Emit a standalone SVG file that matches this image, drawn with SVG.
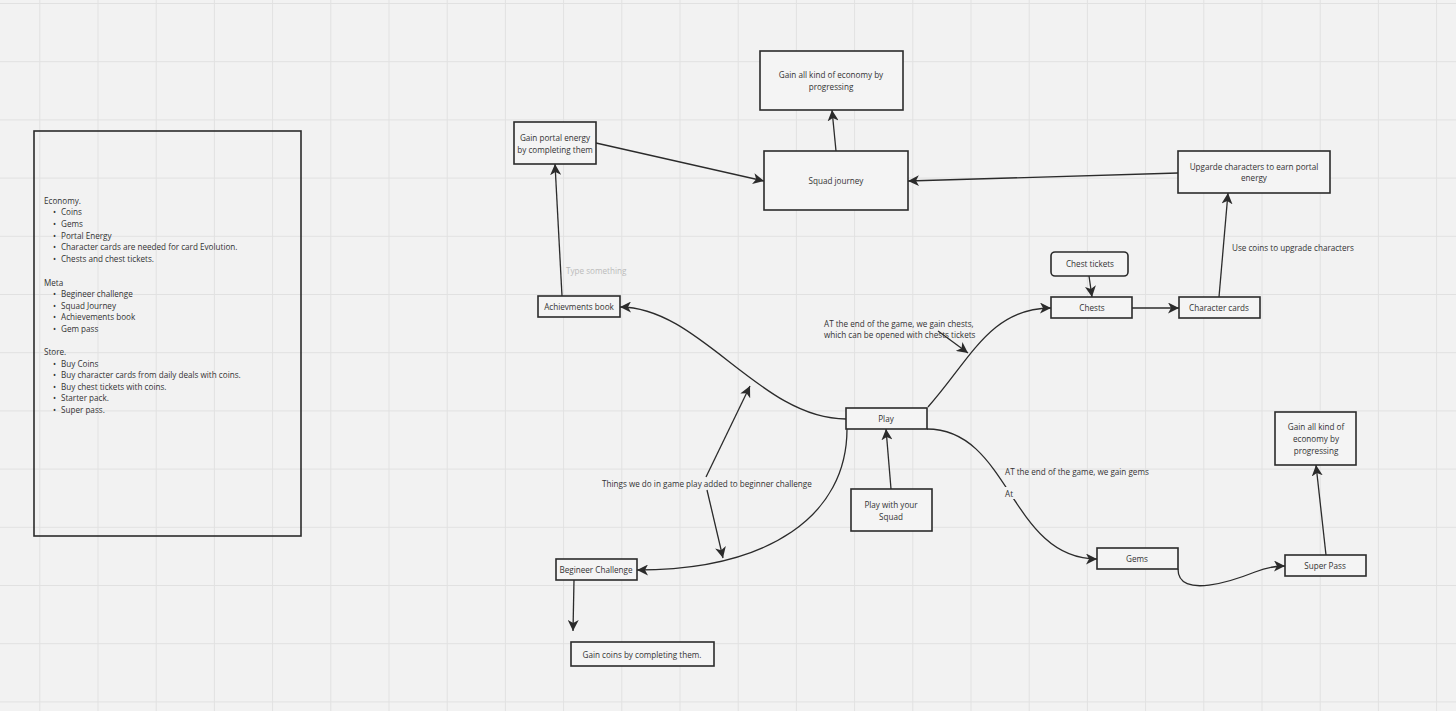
<svg xmlns="http://www.w3.org/2000/svg" width="1456" height="711" viewBox="0 0 1456 711">
<defs>
<pattern id="grid" patternUnits="userSpaceOnUse" x="39.3" y="3" width="58.2" height="58.2">
<path d="M0,0 V58.2 M0,0 H58.2" fill="none" stroke="#e1e1e1" stroke-width="2"/>
</pattern>
<marker id="arr" markerUnits="userSpaceOnUse" markerWidth="12" markerHeight="11" refX="11" refY="5.5" orient="auto" viewBox="0 0 12 11">
<path d="M0,0 L11,5.5 L0,11 L3,5.5 z" fill="#2b2b2b"/>
</marker>
<style>
.bg{fill:#f2f2f2}
.box{fill:#f4f4f4;stroke:#2b2b2b;stroke-width:1.6}
.t{font-family:"Open Sans","DejaVu Sans",sans-serif;font-size:8.15px;fill:#333}
.c{text-anchor:middle}
.ln{fill:none;stroke:#2b2b2b;stroke-width:1.3}
.ae{marker-end:url(#arr)}
</style>
</defs>
<rect class="bg" width="1456" height="711"/>
<rect width="1456" height="711" fill="url(#grid)"/>

<g id="legend">
<rect x="34" y="131" width="267" height="405" fill="none" stroke="#2b2b2b" stroke-width="1.6"/>
<text class="t" x="44" y="204">Economy.</text>
<text class="t" x="53" y="215">•<tspan x="61">Coins</tspan></text>
<text class="t" x="53" y="227">•<tspan x="61">Gems</tspan></text>
<text class="t" x="53" y="239">•<tspan x="61">Portal Energy</tspan></text>
<text class="t" x="53" y="250">•<tspan x="61">Character cards are needed for card Evolution.</tspan></text>
<text class="t" x="53" y="262">•<tspan x="61">Chests and chest tickets.</tspan></text>
<text class="t" x="44" y="286">Meta</text>
<text class="t" x="53" y="297">•<tspan x="61">Begineer challenge</tspan></text>
<text class="t" x="53" y="309">•<tspan x="61">Squad Journey</tspan></text>
<text class="t" x="53" y="320">•<tspan x="61">Achievements book</tspan></text>
<text class="t" x="53" y="332">•<tspan x="61">Gem pass</tspan></text>
<text class="t" x="44" y="355">Store.</text>
<text class="t" x="53" y="367">•<tspan x="61">Buy Coins</tspan></text>
<text class="t" x="53" y="378">•<tspan x="61">Buy character cards from daily deals with coins.</tspan></text>
<text class="t" x="53" y="390">•<tspan x="61">Buy chest tickets with coins.</tspan></text>
<text class="t" x="53" y="401">•<tspan x="61">Starter pack.</tspan></text>
<text class="t" x="53" y="413">•<tspan x="61">Super pass.</tspan></text>
</g>

<g id="connectors">
<path class="ln ae" d="M596,143 L764,181"/>
<path class="ln ae" d="M836,151 L832,110"/>
<path class="ln ae" d="M1178,173 L908,181"/>
<path class="ln ae" d="M562,296 L555,164"/>
<path class="ln ae" d="M846,419 C760,419 700,307 620,307"/>
<path class="ln ae" d="M928,407 C970,360 990,308 1051,308"/>
<path class="ln ae" d="M938,331 L968,353"/>
<path class="ln ae" d="M1089,276 L1092,297"/>
<path class="ln ae" d="M1132,308 L1179,308"/>
<path class="ln ae" d="M1219,297 L1228,193"/>
<path class="ln ae" d="M847,429 C847,515 770,570 637,570"/>
<path class="ln ae" d="M706,477 L750,386"/>
<path class="ln ae" d="M707,490 L723,558"/>
<path class="ln ae" d="M574,580 L573,631"/>
<path class="ln ae" d="M891,489 L886,429"/>
<path class="ln ae" d="M927,429 C1010,429 1010,559 1097,559"/>
<path class="ln ae" d="M1178,569 C1178,600 1235,580 1255,572 C1265,568 1275,566 1285,566"/>
<path class="ln ae" d="M1326,555 L1316,465"/>
<rect x="1003" y="487" width="14" height="12" class="bg"/>
<text class="t" x="824" y="327">AT the end of the game, we gain chests,</text>
<text class="t" x="824" y="338">which can be opened with chests tickets</text>
<text class="t" x="1232" y="251">Use coins to upgrade characters</text>
<text class="t" x="566" y="274" style="fill:#bbb">Type something</text>
<text class="t" x="602" y="487">Things we do in game play added to beginner challenge</text>
<text class="t" x="1005" y="475">AT the end of the game, we gain gems</text>
<text class="t" x="1005" y="497">At</text>
</g>

<g id="n-economy-top">
<rect class="box" x="760" y="51" width="143" height="59"/>
<text class="t c" x="831" y="78">Gain all kind of economy by</text>
<text class="t c" x="831" y="90">progressing</text>
</g>
<g id="n-portal">
<rect class="box" x="514" y="122" width="82" height="42"/>
<text class="t c" x="555" y="141">Gain portal energy</text>
<text class="t c" x="555" y="153">by completing them</text>
</g>
<g id="n-squad">
<rect class="box" x="764" y="151" width="144" height="59"/>
<text class="t c" x="836" y="184">Squad journey</text>
</g>
<g id="n-upgrade">
<rect class="box" x="1178" y="151" width="152" height="42"/>
<text class="t c" x="1254" y="170">Upgarde characters to earn portal</text>
<text class="t c" x="1254" y="181">energy</text>
</g>
<g id="n-tickets">
<rect class="box" x="1051" y="252" width="77" height="24" rx="4"/>
<text class="t c" x="1090" y="267">Chest tickets</text>
</g>
<g id="n-chests">
<rect class="box" x="1051" y="297" width="81" height="21"/>
<text class="t c" x="1092" y="311">Chests</text>
</g>
<g id="n-cards">
<rect class="box" x="1179" y="297" width="81" height="21"/>
<text class="t c" x="1219" y="311">Character cards</text>
</g>
<g id="n-achiev">
<rect class="box" x="538" y="296" width="82" height="21"/>
<text class="t c" x="579" y="310">Achievments book</text>
</g>
<g id="n-play">
<rect class="box" x="846" y="408" width="81" height="21"/>
<text class="t c" x="886" y="422">Play</text>
</g>
<g id="n-squadplay">
<rect class="box" x="851" y="489" width="81" height="42"/>
<text class="t c" x="891" y="508">Play with your</text>
<text class="t c" x="891" y="520">Squad</text>
</g>
<g id="n-beginner">
<rect class="box" x="556" y="559" width="81" height="21"/>
<text class="t c" x="596" y="573">Begineer Challenge</text>
</g>
<g id="n-coins">
<rect class="box" x="571" y="642" width="143" height="24"/>
<text class="t c" x="642" y="658">Gain coins by completing them.</text>
</g>
<g id="n-gems">
<rect class="box" x="1097" y="548" width="81" height="21"/>
<text class="t c" x="1137" y="562">Gems</text>
</g>
<g id="n-superpass">
<rect class="box" x="1285" y="555" width="81" height="21"/>
<text class="t c" x="1325" y="569">Super Pass</text>
</g>
<g id="n-economy-right">
<rect class="box" x="1275" y="412" width="81" height="53"/>
<text class="t c" x="1316" y="430">Gain all kind of</text>
<text class="t c" x="1316" y="442">economy by</text>
<text class="t c" x="1316" y="454">progressing</text>
</g>
</svg>
